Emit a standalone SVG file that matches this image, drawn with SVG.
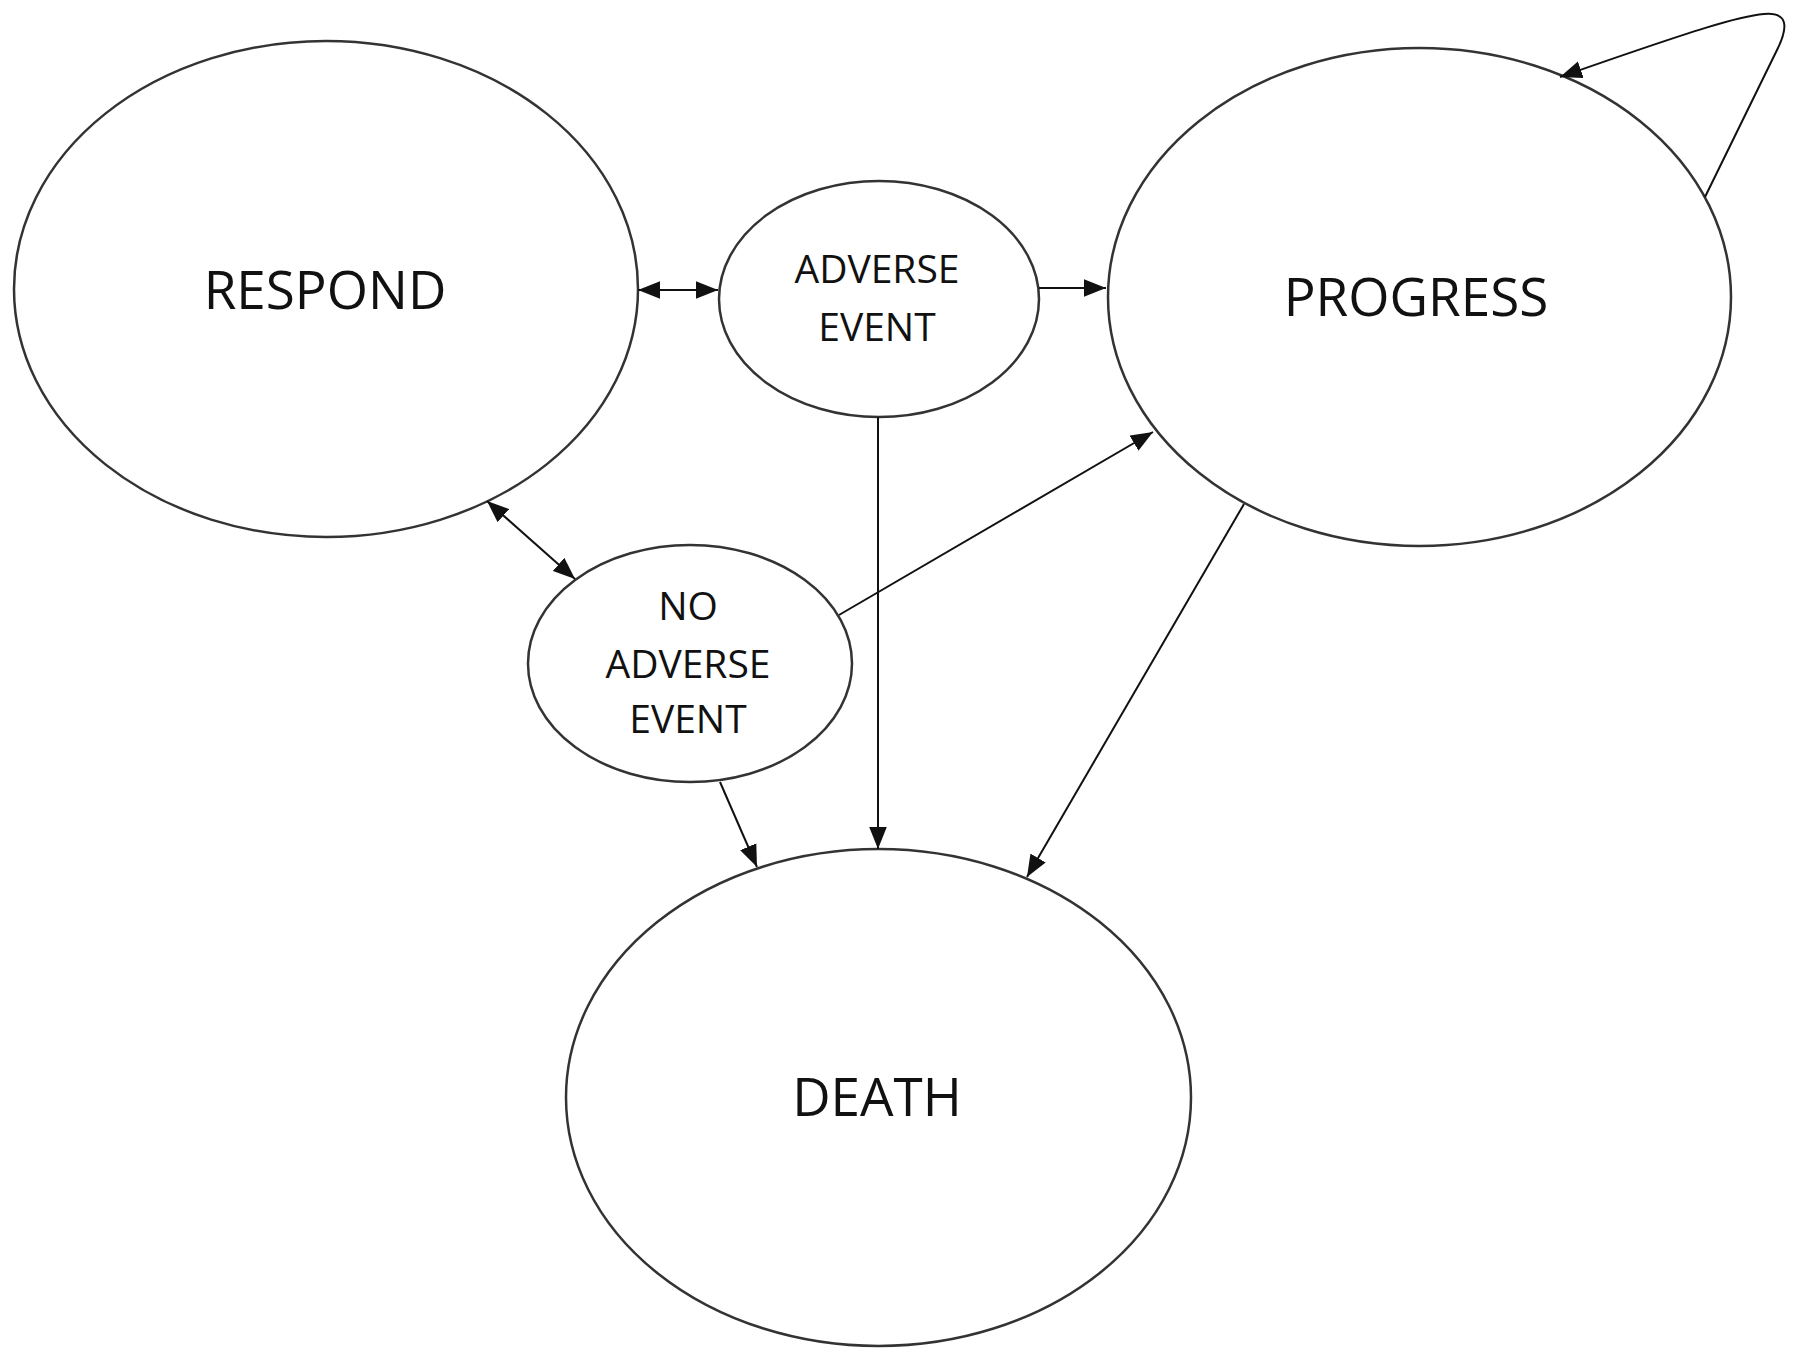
<svg xmlns="http://www.w3.org/2000/svg" width="1800" height="1361" viewBox="0 0 1800 1361">
<style>
.node{fill:#fff;stroke:#333;stroke-width:2.5}
.lbl{font-family:"Open Sans","Noto Sans",sans-serif;fill:#111;text-anchor:middle}
.big{font-size:53px}
.small{font-size:39px}
.edge{fill:none;stroke:#111;stroke-width:2}
</style>
<defs>
<marker id="ah" markerUnits="userSpaceOnUse" markerWidth="22" markerHeight="18" refX="20" refY="8" orient="auto-start-reverse" viewBox="0 0 20 16">
<path d="M0,0 L20,8 L0,16 z" fill="#111"/>
</marker>
</defs>
<rect width="1800" height="1361" fill="#fff"/>
<g id="respond">
<ellipse class="node" cx="326" cy="289" rx="312" ry="248"/>
<text class="lbl big" x="325" y="309">RESPOND</text>
</g>
<g id="adverse-event">
<ellipse class="node" cx="879" cy="299" rx="160" ry="118"/>
<text class="lbl small" x="877" y="283">ADVERSE</text>
<text class="lbl small" x="877" y="341">EVENT</text>
</g>
<g id="progress">
<ellipse class="node" cx="1419.5" cy="297" rx="311.5" ry="249"/>
<text class="lbl big" x="1416" y="316">PROGRESS</text>
</g>
<g id="no-adverse-event">
<ellipse class="node" cx="690" cy="663.5" rx="162" ry="118.5"/>
<text class="lbl small" x="688" y="620">NO</text>
<text class="lbl small" x="688" y="678">ADVERSE</text>
<text class="lbl small" x="688" y="733">EVENT</text>
</g>
<g id="death">
<ellipse class="node" cx="878.5" cy="1097.5" rx="312.5" ry="248.5"/>
<text class="lbl big" x="877" y="1116">DEATH</text>
</g>
<g id="connectors">
<line class="edge" x1="638" y1="290" x2="718" y2="290" marker-start="url(#ah)" marker-end="url(#ah)"/>
<line class="edge" x1="1039" y1="288" x2="1106" y2="288" marker-end="url(#ah)"/>
<line class="edge" x1="487" y1="501" x2="575" y2="579" marker-start="url(#ah)" marker-end="url(#ah)"/>
<line class="edge" x1="839" y1="615" x2="1153" y2="432" marker-end="url(#ah)"/>
<line class="edge" x1="878" y1="417" x2="878" y2="849" marker-end="url(#ah)"/>
<line class="edge" x1="720" y1="782" x2="757" y2="867" marker-end="url(#ah)"/>
<line class="edge" x1="1244" y1="504" x2="1027" y2="877" marker-end="url(#ah)"/>
<path class="edge" d="M1705,197 L1777,50 C1790,24 1786,12 1764,14 C1740,16 1700,28 1560,77" marker-end="url(#ah)"/>
</g>
</svg>
